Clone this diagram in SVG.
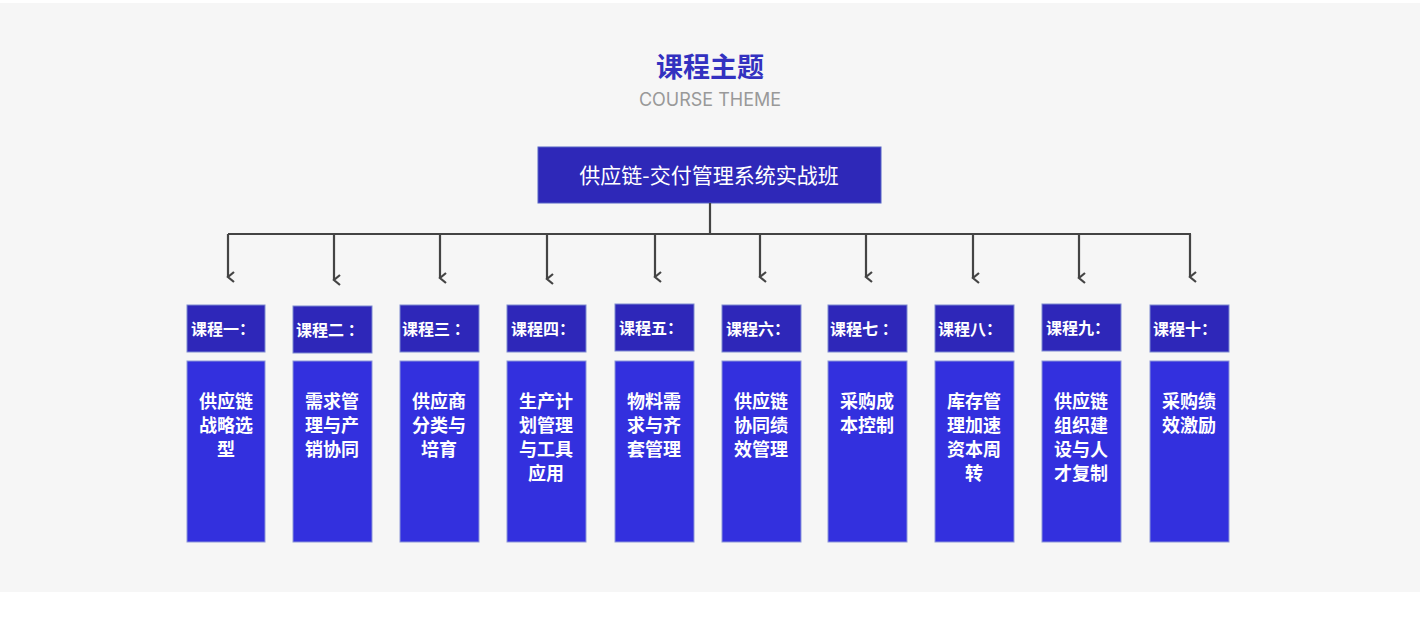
<svg xmlns="http://www.w3.org/2000/svg" width="1420" height="622" viewBox="0 0 1420 622">
<style>
.h{fill:#2e27b9;stroke:#7d8ad0;stroke-width:1}
.b{fill:#3330de;stroke:#8c95d8;stroke-width:1}
.ht{font-family:"Noto Sans CJK SC",sans-serif;font-weight:bold;font-size:16px;fill:#fff}
.bt{font-family:"Noto Sans CJK SC",sans-serif;font-weight:bold;font-size:18px;fill:#fff;text-anchor:middle}
.c{stroke:#444;stroke-width:2.2;fill:none}
</style>
<defs><marker id="a" markerWidth="12" markerHeight="12" refX="6" refY="10" orient="auto" markerUnits="userSpaceOnUse" viewBox="0 0 12 12"><path d="M1,4 L6,10 L11,4" fill="none" stroke="#444" stroke-width="2.2"/></marker></defs>
<rect x="0" y="3" width="1420" height="589" fill="#f6f6f6"/>
<text x="710" y="77" text-anchor="middle" font-family="Noto Sans CJK SC,sans-serif" font-weight="bold" font-size="27" fill="#3331c0">课程主题</text>
<text x="710" y="106" text-anchor="middle" font-family="Inter,Lato,sans-serif" font-size="18" fill="#999">COURSE THEME</text>
<g id="root"><rect x="538" y="147" width="343" height="56" fill="#2e28b8" stroke="#5563c4"/><text x="709" y="183" text-anchor="middle" font-family="Noto Sans CJK SC,sans-serif" font-size="21" fill="#fff">供应链-交付管理系统实战班</text></g>
<g id="connectors">
<path class="c" d="M710,203 V234 M228,234 H1191"/>
<path class="c" marker-end="url(#a)" d="M228,234 V277"/>
<path class="c" marker-end="url(#a)" d="M334,234 V280"/>
<path class="c" marker-end="url(#a)" d="M440,234 V278"/>
<path class="c" marker-end="url(#a)" d="M547,234 V279"/>
<path class="c" marker-end="url(#a)" d="M655,234 V277"/>
<path class="c" marker-end="url(#a)" d="M760,234 V277"/>
<path class="c" marker-end="url(#a)" d="M866,234 V277"/>
<path class="c" marker-end="url(#a)" d="M973,234 V278"/>
<path class="c" marker-end="url(#a)" d="M1079,234 V278"/>
<path class="c" marker-end="url(#a)" d="M1190,234 V277"/>
</g>
<g id="n1"><rect class="h" x="187" y="305" width="78" height="47"/><text class="ht" x="191" y="335">课程一：</text><rect class="b" x="187" y="361" width="78" height="181"/><text class="bt" x="226" y="408">供应链</text><text class="bt" x="226" y="432">战略选</text><text class="bt" x="226" y="456">型</text></g>
<g id="n2"><rect class="h" x="293" y="306" width="79" height="47"/><text class="ht" x="296" y="336">课程二 ：</text><rect class="b" x="293" y="361" width="79" height="181"/><text class="bt" x="332" y="408">需求管</text><text class="bt" x="332" y="432">理与产</text><text class="bt" x="332" y="456">销协同</text></g>
<g id="n3"><rect class="h" x="400" y="305" width="79" height="47"/><text class="ht" x="402" y="335">课程三 ：</text><rect class="b" x="400" y="361" width="79" height="181"/><text class="bt" x="439" y="408">供应商</text><text class="bt" x="439" y="432">分类与</text><text class="bt" x="439" y="456">培育</text></g>
<g id="n4"><rect class="h" x="507" y="305" width="79" height="47"/><text class="ht" x="511" y="335">课程四：</text><rect class="b" x="507" y="361" width="79" height="181"/><text class="bt" x="546" y="408">生产计</text><text class="bt" x="546" y="432">划管理</text><text class="bt" x="546" y="456">与工具</text><text class="bt" x="546" y="480">应用</text></g>
<g id="n5"><rect class="h" x="615" y="304" width="79" height="47"/><text class="ht" x="619" y="334">课程五：</text><rect class="b" x="615" y="361" width="79" height="181"/><text class="bt" x="654" y="408">物料需</text><text class="bt" x="654" y="432">求与齐</text><text class="bt" x="654" y="456">套管理</text></g>
<g id="n6"><rect class="h" x="722" y="305" width="79" height="47"/><text class="ht" x="726" y="335">课程六：</text><rect class="b" x="722" y="361" width="79" height="181"/><text class="bt" x="761" y="408">供应链</text><text class="bt" x="761" y="432">协同绩</text><text class="bt" x="761" y="456">效管理</text></g>
<g id="n7"><rect class="h" x="828" y="305" width="79" height="47"/><text class="ht" x="830" y="335">课程七 ：</text><rect class="b" x="828" y="361" width="79" height="181"/><text class="bt" x="867" y="408">采购成</text><text class="bt" x="867" y="432">本控制</text></g>
<g id="n8"><rect class="h" x="935" y="305" width="79" height="47"/><text class="ht" x="938" y="335">课程八：</text><rect class="b" x="935" y="361" width="79" height="181"/><text class="bt" x="974" y="408">库存管</text><text class="bt" x="974" y="432">理加速</text><text class="bt" x="974" y="456">资本周</text><text class="bt" x="974" y="480">转</text></g>
<g id="n9"><rect class="h" x="1042" y="304" width="79" height="47"/><text class="ht" x="1046" y="334">课程九：</text><rect class="b" x="1042" y="361" width="79" height="181"/><text class="bt" x="1081" y="408">供应链</text><text class="bt" x="1081" y="432">组织建</text><text class="bt" x="1081" y="456">设与人</text><text class="bt" x="1081" y="480">才复制</text></g>
<g id="n10"><rect class="h" x="1150" y="305" width="79" height="47"/><text class="ht" x="1153" y="335">课程十：</text><rect class="b" x="1150" y="361" width="79" height="181"/><text class="bt" x="1189" y="408">采购绩</text><text class="bt" x="1189" y="432">效激励</text></g>
</svg>
